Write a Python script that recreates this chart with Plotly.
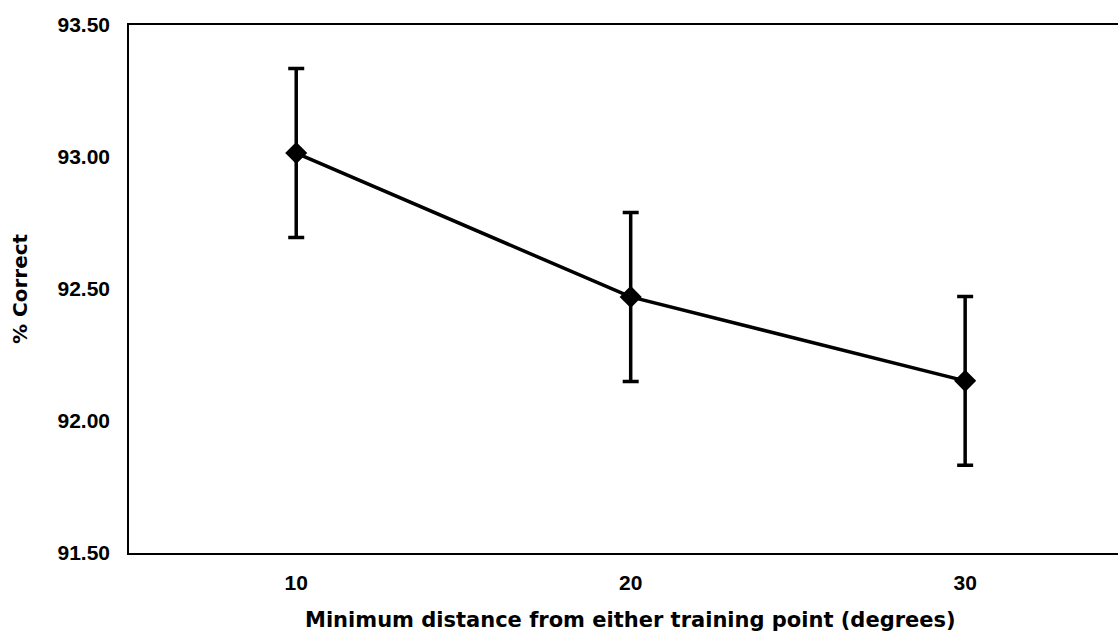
import plotly.graph_objects as go

distances = [10, 20, 30]
pct_correct = [93.015, 92.47, 92.152]
err = [0.32, 0.32, 0.32]
y_ticks = [91.5, 92.0, 92.5, 93.0, 93.5]
y_tick_labels = ["91.50", "92.00", "92.50", "93.00", "93.50"]
x_title = "Minimum distance from either training point (degrees)"
y_title = "% Correct"

fig = go.Figure()
fig.add_trace(go.Scatter(
    x=distances, y=pct_correct, mode="lines+markers",
    line=dict(color="black", width=3.5),
    marker=dict(symbol="diamond", size=17, color="black"),
    error_y=dict(type="data", array=err, visible=True, color="black", thickness=3.5, width=8),
    showlegend=False,
))
fig.add_trace(go.Scatter(x=[], y=[], xaxis="x2", showlegend=False))

fig.add_annotation(text=x_title, xref="x", x=20, yref="paper", y=0, yanchor="middle",
                   yshift=-67, showarrow=False,
                   font=dict(size=21, family="DejaVu Sans", weight="bold", color="black"))
fig.add_annotation(text=y_title, xref="paper", x=0, xanchor="center", xshift=-109,
                   yref="paper", y=0.5, yanchor="middle", textangle=-90, showarrow=False,
                   font=dict(size=20, family="DejaVu Sans", weight="bold", color="black"))

fig.update_layout(
    width=1120, height=635,
    margin=dict(l=129, r=2, t=25, b=82),
    paper_bgcolor="white", plot_bgcolor="white",
    font=dict(family="Liberation Sans", color="black"),
    xaxis=dict(range=[5, 34.57], tickvals=distances, ticktext=[str(d) for d in distances],
               showgrid=False, zeroline=False, showline=True, linecolor="black", linewidth=2,
               tickfont=dict(size=21, family="Liberation Sans", weight="bold"),
               ticks="", ticklabelstandoff=10, automargin=False),
    xaxis2=dict(overlaying="x", side="top", range=[5, 34.57], showgrid=False, zeroline=False,
                showline=True, linecolor="black", linewidth=2, showticklabels=False, ticks=""),
    yaxis=dict(range=[91.5, 93.5], tickvals=y_ticks, ticktext=y_tick_labels,
               showgrid=False, zeroline=False, showline=True, linecolor="black", linewidth=1.5,
               tickfont=dict(size=21, family="Liberation Sans", weight="bold"),
               ticks="", ticklabelstandoff=13, automargin=False),
)

fig.write_html("out.html")
